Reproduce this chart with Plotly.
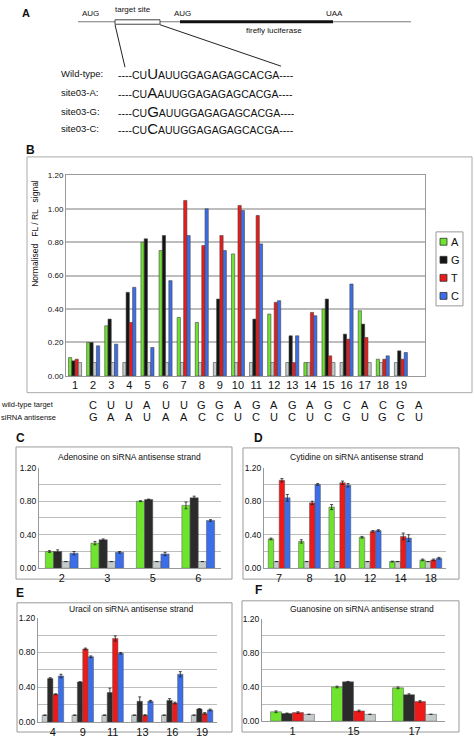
import plotly.graph_objects as go

W, H = 474, 739
def px(x): return x / W
def py(y): return 1 - y / H

# ---------------- data ----------------
POSITIONS = [str(i) for i in range(1, 20)]
WT_TARGET = ["C","U","U","A","U","U","G","G","A","G","A","G","A","G","C","A","C","G","A"]
SIRNA_ANTISENSE = ["G","A","A","U","A","A","C","C","U","C","U","C","U","C","G","U","G","C","U"]
NUCS = ["A", "G", "T", "C"]

# normalised FL/RL signal per substituted nucleotide (wild-type slot = wild-type signal)
VAL_A = [0.11,0.20,0.30,0.08,0.80,0.75,0.35,0.32,0.08,0.73,0.08,0.37,0.08,0.08,0.40,0.08,0.39,0.10,0.08]
VAL_G = [0.09,0.20,0.34,0.50,0.82,0.84,0.08,0.08,0.46,0.08,0.34,0.08,0.24,0.08,0.46,0.25,0.31,0.08,0.15]
VAL_T = [0.10,0.08,0.08,0.32,0.08,0.08,1.05,0.78,0.84,1.02,0.96,0.44,0.08,0.38,0.12,0.22,0.23,0.10,0.10]
VAL_C = [0.08,0.18,0.19,0.53,0.17,0.57,0.84,1.00,0.75,0.99,0.79,0.45,0.24,0.36,0.08,0.55,0.08,0.12,0.14]

ERR_A = [0.01,0.01,0.02,0,0.005,0.04,0.01,0.02,0,0.03,0,0.01,0,0.005,0.01,0,0.01,0.01,0]
ERR_G = [0.005,0.02,0.01,0.01,0.005,0.02,0,0,0.005,0,0.05,0,0.05,0,0.005,0.02,0.01,0,0.005]
ERR_T = [0.01,0,0,0.005,0,0,0.02,0.02,0.01,0.02,0.03,0.01,0.005,0.04,0.01,0.01,0.01,0.01,0.01]
ERR_C = [0,0.02,0.01,0.02,0.02,0.01,0.04,0.01,0.01,0.02,0.01,0.01,0.01,0.04,0,0.03,0,0.01,0.01]

VALUES = {"A": VAL_A, "G": VAL_G, "T": VAL_T, "C": VAL_C}
ERRORS = {"A": ERR_A, "G": ERR_G, "T": ERR_T, "C": ERR_C}

PANEL_TITLES = {"C": "Adenosine on siRNA antisense strand",
                "D": "Cytidine on siRNA antisense strand",
                "E": "Uracil on siRNA antisense strand",
                "F": "Guanosine on siRNA antisense strand"}
PANEL_ANTISENSE = {"C": "A", "D": "C", "E": "U", "F": "G"}

WT_SEQ_LEFT = "----CU"
WT_SEQ_RIGHT = "AUUGGAGAGAGCACGA----"
SITES = [("Wild-type:", "U"), ("site03-A:", "A"), ("site03-G:", "G"), ("site03-C:", "C")]

# ---------------- style ----------------
COLORS = {"A": "#6ee42e", "G": "#141414", "T": "#ee1a1a", "C": "#3b6ee8"}
COLORS_SMALL = {"A": "#6ee42e", "G": "#2b2b2b", "T": "#ee1a1a", "C": "#3b6ee8"}
GRAY = "#c5cbcb"
FONT = "Arial, Liberation Sans, sans-serif"
GRID = "#bdbdbd"
TXT = "#111"

def to_dna(n):
    return "T" if n == "U" else n

fig = go.Figure()
annotations = []
shapes = []

def note(text, x, y, size, xanchor="center", angle=0, xref="paper"):
    annotations.append(dict(text=text, x=(px(x) if xref == "paper" else x), y=py(y), xref=xref, yref="paper",
                            showarrow=False, xanchor=xanchor, yanchor="middle", textangle=angle,
                            font=dict(size=size, family=FONT, color=TXT)))

def pline(x0, y0, x1, y1, color, width):
    shapes.append(dict(type="line", xref="paper", yref="paper", x0=px(x0), x1=px(x1), y0=py(y0), y1=py(y1),
                       line=dict(color=color, width=width)))

def prect(x0, y0, x1, y1, color, width, fill=None, layer="above"):
    d = dict(type="rect", xref="paper", yref="paper", x0=px(x0), x1=px(x1), y0=py(y1), y1=py(y0),
             line=dict(color=color, width=width), layer=layer)
    if fill:
        d["fillcolor"] = fill
    shapes.append(d)

# ---------------- Panel B ----------------
for n in NUCS:
    cols = [GRAY if to_dna(w) == n else COLORS[n] for w in WT_TARGET]
    fig.add_trace(go.Bar(x=POSITIONS, y=VALUES[n], name=n, marker=dict(color=cols, line=dict(color="#444", width=0.6)),
                         xaxis="x", yaxis="y", showlegend=False))

yt = [0, 0.2, 0.4, 0.6, 0.8, 1.0, 1.2]
layout_axes = {}
layout_axes["xaxis"] = dict(domain=[px(66), px(425)], anchor="y", type="category", showline=True, linecolor="#999",
                            mirror=True, tickfont=dict(size=11, color=TXT, family=FONT), ticks="", showgrid=False,
                            ticklabelstandoff=-1)
layout_axes["yaxis"] = dict(domain=[py(376), py(172.7)], anchor="x", range=[0, 1.2], tickvals=yt,
                            ticktext=[f"{v:.2f}" for v in yt], showgrid=True, gridcolor=GRID, gridwidth=1.5,
                            showline=True, linecolor="#999", mirror=True, zeroline=False,
                            tickfont=dict(size=8, color=TXT, family=FONT))

prect(27, 154, 472, 393, "#aaa", 1, layer="below")
note("<b>B</b>", 30, 147, 12)
note("Normalised\u00a0\u00a0 FL / RL \u00a0\u00a0signal", 35, 232, 8.5, angle=-90)
note("wild-type target", 56, 405, 7.5, xanchor="right")
note("siRNA antisense", 58, 418, 7.5, xanchor="right")
for p, t, s in zip(POSITIONS, WT_TARGET, SIRNA_ANTISENSE):
    note(t, p, 405, 11, xref="x")
    note(s, p, 418, 11, xref="x")
# legend
prect(436, 230, 463, 305, "#999", 1, fill="white")
for i, n in enumerate(NUCS):
    yc = 240 + i * 18.3
    prect(440, yc - 3.5, 447, yc + 3.5, "#333", 0.8, fill=COLORS[n])
    note(n, 449, yc, 11, xanchor="left")

# ---------------- Panels C-F ----------------
PANEL_GEOM = {
    "C": dict(plot=(39, 221, 469, 571), frame=(16, 232, 448, 582), title=(129, 458), letter=(20, 439), standoff=0),
    "D": dict(plot=(264, 446, 469, 571), frame=(243, 459, 449, 582), title=(357, 458), letter=(258, 439), standoff=0),
    "E": dict(plot=(38, 217, 621, 727), frame=(17, 232, 606, 737), title=(131, 612), letter=(20, 596), standoff=0),
    "F": dict(plot=(262, 445, 622, 726), frame=(242, 459, 604, 737), title=(362, 612), letter=(258, 593), standoff=0),
}
yt_small_text = ["0.00", "", "0.40", "", "0.80", "", "1.20"]

for k, panel in enumerate(["C", "D", "E", "F"]):
    ax = k + 2
    g = PANEL_GEOM[panel]
    idx = [i for i, s in enumerate(SIRNA_ANTISENSE) if s == PANEL_ANTISENSE[panel]]
    cats = [POSITIONS[i] for i in idx]
    for n in NUCS:
        ys = [VALUES[n][i] for i in idx]
        es = [ERRORS[n][i] for i in idx]
        cols = [GRAY if to_dna(WT_TARGET[i]) == n else COLORS_SMALL[n] for i in idx]
        fig.add_trace(go.Bar(x=cats, y=ys, name=n, marker=dict(color=cols, line=dict(color="#555", width=0.5)),
                             error_y=dict(type="data", array=es, visible=True, color="#222", thickness=0.8, width=1.5),
                             xaxis=f"x{ax}", yaxis=f"y{ax}", showlegend=False))
    x0, x1, yt0, yb0 = g["plot"]
    layout_axes[f"xaxis{ax}"] = dict(domain=[px(x0), px(x1)], anchor=f"y{ax}", type="category", showline=True,
                                     linecolor="#999", ticks="", showgrid=False, ticklabelstandoff=g["standoff"],
                                     tickfont=dict(size=11, color=TXT, family=FONT))
    layout_axes[f"yaxis{ax}"] = dict(domain=[py(yb0), py(yt0)], anchor=f"x{ax}", range=[0, 1.2], tickvals=yt,
                                     ticktext=yt_small_text, showgrid=True, gridcolor=GRID, gridwidth=1.2,
                                     showline=True, linecolor="#999", zeroline=False, ticks="",
                                     tickfont=dict(size=8.5, color=TXT, family=FONT))
    fx0, fx1, fy0, fy1 = g["frame"]
    prect(fx0, fy0, fx1, fy1, "#999", 1, layer="below")
    note(PANEL_TITLES[panel], g["title"][0], g["title"][1], 8.5)
    note(f"<b>{panel}</b>", g["letter"][0], g["letter"][1], 12)

# ---------------- Panel A (schematic) ----------------
note("<b>A</b>", 26, 8, 11)
pline(78, 17, 411, 17, "#777", 1)
prect(115, 15, 160, 19.5, "#444", 1, fill="white")
pline(180, 17, 333, 17, "#111", 3)
pline(115, 20, 125, 63, "#222", 1)
pline(160, 20, 281, 62, "#222", 1)
for txt, x, y in [("AUG", 90, 9), ("target site", 133, 5), ("AUG", 182, 9), ("UAA", 334, 9),
                  ("firefly luciferase", 274, 26)]:
    note(txt, x, y, 8)
for i, (lab, mid) in enumerate(SITES):
    y = [69, 89, 108, 125][i]
    note(lab, 59, y, 9.5, xanchor="left")
    seq = WT_SEQ_LEFT + f"<span style='font-size:15px'>{mid}</span>" + WT_SEQ_RIGHT
    note(seq, 116, y, 10.5, xanchor="left")

fig.update_layout(
    width=W, height=H, margin=dict(l=0, r=0, t=0, b=0),
    paper_bgcolor="white", plot_bgcolor="white",
    barmode="group", bargap=0.28, bargroupgap=0,
    showlegend=False, font=dict(family=FONT),
    annotations=annotations, shapes=shapes,
    **layout_axes,
)

fig.write_html("out.html", config={"displayModeBar": False},
               post_script="document.body.style.margin='0';document.body.style.padding='0';")
